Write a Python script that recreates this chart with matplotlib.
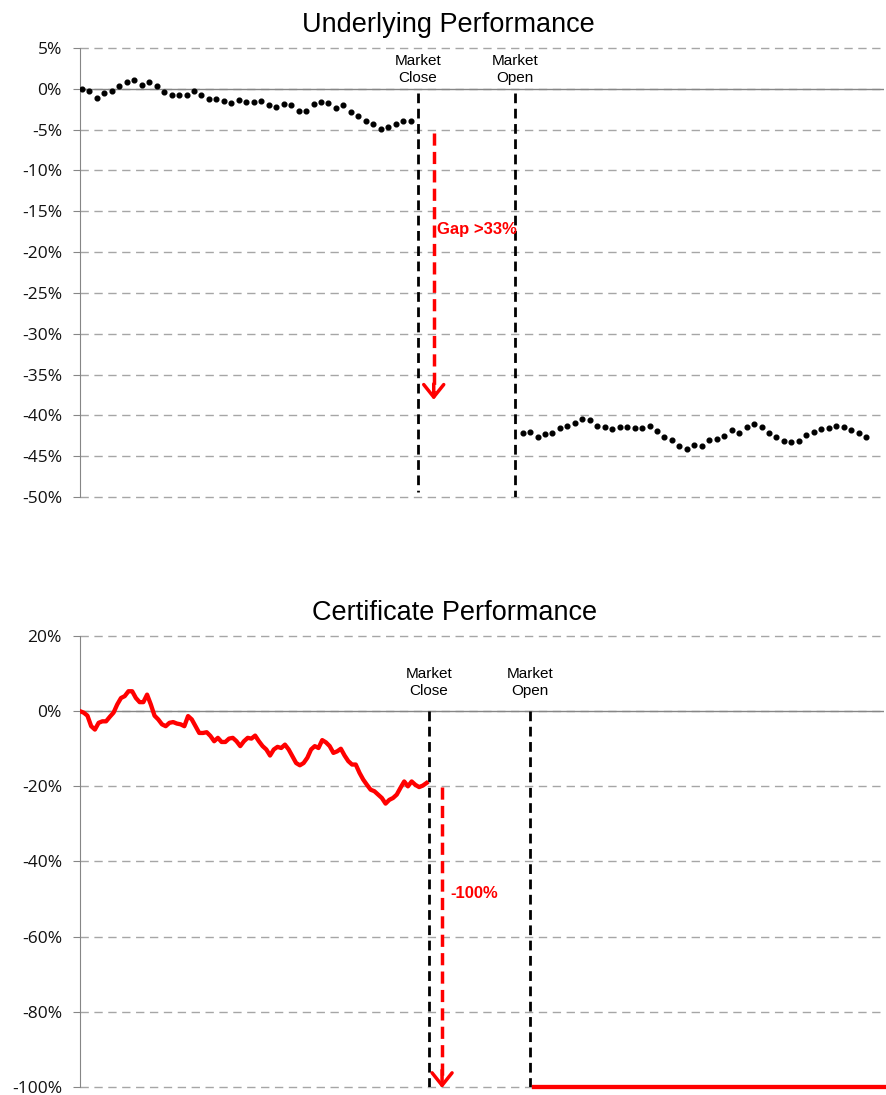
import numpy as np
import matplotlib.pyplot as plt
from matplotlib.ticker import FuncFormatter

plt.rcParams['font.family'] = ['Liberation Sans', 'DejaVu Sans']

# underlying, % change, one dot per period
under_pre = [0.0, -0.3, -1.1, -0.5, -0.3, 0.4, 0.8, 1.1, 0.5, 0.8, 0.3, -0.4,
             -0.8, -0.7, -0.7, -0.3, -0.7, -1.2, -1.2, -1.5, -1.7, -1.4, -1.6,
             -1.6, -1.5, -2.0, -2.2, -1.9, -2.0, -2.7, -2.7, -1.9, -1.6, -1.7,
             -2.4, -2.0, -2.8, -3.3, -3.9, -4.3, -4.9, -4.7, -4.3, -4.0, -4.0]
under_post = [-42.1, -42.0, -42.7, -42.3, -42.2, -41.6, -41.25, -40.95, -40.4,
              -40.6, -41.3, -41.45, -41.7, -41.4, -41.4, -41.6, -41.6, -41.25,
              -41.9, -42.7, -43.0, -43.7, -44.1, -43.6, -43.75, -43.0, -42.9,
              -42.5, -41.8, -42.2, -41.45, -41.0, -41.45, -42.1, -42.7, -43.1,
              -43.3, -43.1, -42.4, -42.0, -41.7, -41.6, -41.25, -41.4, -41.8,
              -42.1, -42.6]

# certificate, % change (finer sampling before the close)
cert_pre = [0.0, -0.4, -1.2, -4.0, -4.9, -3.1, -2.7, -2.7, -1.5, -0.4, 1.8, 3.5,
            4.0, 5.3, 5.3, 3.5, 2.4, 2.4, 4.4, 1.8, -1.2, -2.2, -3.5, -4.0, -3.1,
            -2.9, -3.3, -3.5, -4.0, -1.3, -2.2, -4.0, -5.8, -5.8, -5.6, -6.6,
            -8.0, -7.1, -8.2, -8.2, -7.3, -7.1, -8.0, -9.3,
            -8.0, -7.1, -7.3, -6.5, -8.0, -9.3, -10.2, -11.8, -10.2, -9.5, -9.8,
            -8.9, -10.2, -12.0, -13.8, -14.4, -13.8, -12.4, -10.2, -9.3, -9.8,
            -7.7, -8.3, -9.3, -11.1, -10.7, -10.0, -11.8, -13.3, -14.2, -14.2,
            -16.4, -18.2, -19.6, -20.9, -21.3, -22.2, -23.1, -24.6, -23.6, -23.1,
            -22.2, -20.4, -18.7, -20.0, -18.7, -19.6, -20.2, -19.8, -19.1]
cert_after = -100

close_t, open_t = 45, 58
titles = ['Underlying Performance', 'Certificate Performance']
gap_labels = ['Gap >33%', '-100%']

W, H = 886, 1095
fig = plt.figure(figsize=(W / 100, H / 100), dpi=100)
ax1 = fig.add_axes([80 / W, 1 - 497 / H, 804 / W, 449 / H])
ax2 = fig.add_axes([80 / W, 1 - 1087 / H, 804 / W, 451 / H])

GRAY = '#868686'


def style(ax, lo, hi, step):
    ax.set_ylim(lo, hi)
    ax.set_yticks(np.arange(lo, hi + step / 2, step))
    ax.yaxis.set_major_formatter(FuncFormatter(lambda v, _: '%d%%' % round(v)))
    for s in ['top', 'right', 'bottom']:
        ax.spines[s].set_visible(False)
    ax.spines['left'].set_color(GRAY)
    ax.grid(axis='y', color='#a6a6a6', linestyle=(0, (6, 4)), lw=1)
    for gl in ax.get_ygridlines():
        gl.set_clip_on(False)
    ax.set_axisbelow(True)
    ax.axhline(0, color=GRAY, lw=1, zorder=1)
    ax.tick_params(axis='y', length=5, color=GRAY, labelsize=12.5, pad=8)
    ax.set_xticks([])
    for lbl in ax.get_yticklabels():
        lbl.set_family('Open Sans')
        lbl.set_color('#111111')


def market_lines(ax, top, bottoms, label_y):
    for t, name, b in zip([close_t, open_t], ['Close', 'Open'], bottoms):
        ax.plot([t, t], [top, b], color='black', lw=2, dashes=(3.5, 2),
                zorder=3)
        ax.text(t, label_y, 'Market\n' + name, ha='center', va='center',
                fontsize=11, linespacing=1.25)


def gap_arrow(ax, x, y0, y1, label, lx, ly):
    ax.plot([x, x], [y0, y1 + (y0 - y1) * 0.03], color='red', lw=2.5,
            dashes=(3.5, 1.8), zorder=4)
    ax.annotate('', xy=(x, y1), xytext=(x, y1 + (y0 - y1) * 0.06),
                arrowprops=dict(arrowstyle='->,head_length=0.5,head_width=0.4',
                                color='red', lw=2.5, shrinkA=0, shrinkB=0,
                                mutation_scale=18),
                annotation_clip=False, zorder=4)
    ax.text(lx, ly, label, color='red', fontweight='bold', fontsize=12,
            ha='left', va='center')


# top chart
style(ax1, -50, 5, 5)
ax1.set_xlim(-0.27, 107.4)
x_pre = np.arange(len(under_pre))
x_post = open_t + 1 + np.arange(len(under_post))
ax1.plot(x_pre, under_pre, 'o', ms=3.4, color='black', ls='none', zorder=5)
ax1.plot(x_post, under_post, 'o', ms=3.4, color='black', ls='none', zorder=5)
market_lines(ax1, -0.5, [-49.4, -50], 2.4)
gap_arrow(ax1, 47.1, -5.4, -38.1, gap_labels[0], 47.5, -17.2)

# bottom chart
style(ax2, -100, 20, 20)
ax2.set_xlim(0, 103.7)
cx = np.linspace(0, close_t - 0.3, len(cert_pre))
ax2.plot(cx, cert_pre, color='red', lw=3.1, solid_joinstyle='round', zorder=5)
ax2.plot([open_t + 0.5, 103.7], [cert_after, cert_after], color='red', lw=3.1,
         clip_on=False, zorder=5)
market_lines(ax2, 0, [-100, -100], 7.7)
gap_arrow(ax2, 46.7, -20.2, -100.3, gap_labels[1], 47.8, -48.4)

fig.text(448 / W, 1 - 25 / H, titles[0], ha='center', va='center',
         fontsize=19.5)
fig.text(455 / W, 1 - 613 / H, titles[1], ha='center', va='center',
         fontsize=19.5)

fig.savefig('out.png', dpi=100)
